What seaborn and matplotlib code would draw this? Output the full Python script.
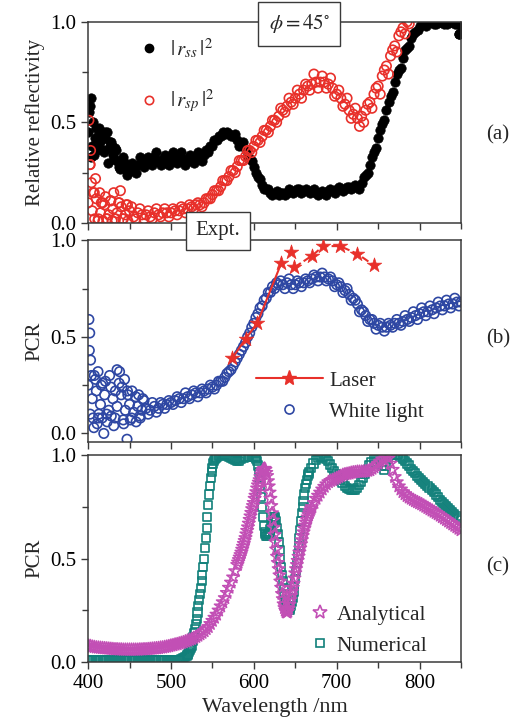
import numpy as np
import seaborn as sns
import matplotlib.pyplot as plt
from matplotlib.lines import Line2D
from matplotlib.ticker import MultipleLocator

# ---- panel (a): relative reflectivity (two interleaved readings, 5 nm apart) ----
rss = [0.45, 0.38, 0.47, 0.40, 0.42, 0.37, 0.34, 0.31, 0.30, 0.27,
       0.26, 0.28, 0.29, 0.30, 0.31, 0.30, 0.33, 0.31, 0.32, 0.30,
       0.32, 0.31, 0.33, 0.32, 0.31, 0.32, 0.33, 0.32, 0.34, 0.35,
       0.38, 0.41, 0.43, 0.44, 0.44, 0.43, 0.41, 0.39, 0.36, 0.32,
       0.28, 0.23, 0.19, 0.17, 0.15, 0.15, 0.14, 0.15, 0.15, 0.16,
       0.16, 0.17, 0.16, 0.16, 0.16, 0.15, 0.15, 0.15, 0.16, 0.16,
       0.17, 0.17, 0.17, 0.18, 0.18, 0.18, 0.20, 0.24, 0.29, 0.35,
       0.42, 0.49, 0.56, 0.63, 0.70, 0.76, 0.82, 0.87, 0.92, 0.95,
       0.98, 1.00, 1.00, 1.00, 0.99, 1.00, 0.99, 1.00, 1.00, 0.99, 0.98]
rss_2 = [0.58, 0.34, 0.43, 0.36, 0.45, 0.40, 0.37, 0.28, 0.33, 0.24,
         0.30, 0.25, 0.33, 0.28, 0.33, 0.29, 0.35, 0.29, 0.34, 0.29,
         0.35, 0.30, 0.35, 0.29, 0.34, 0.30, 0.35, 0.31, 0.36, 0.38,
         0.41, 0.43, 0.45, 0.45, 0.43, 0.44, 0.38, 0.40, 0.33, 0.31,
         0.25, 0.22, 0.17, 0.17, 0.14, 0.16, 0.15, 0.14, 0.17, 0.15,
         0.17, 0.15, 0.17, 0.15, 0.17, 0.14, 0.16, 0.14, 0.17, 0.15,
         0.18, 0.16, 0.18, 0.17, 0.19, 0.17, 0.23, 0.25, 0.33, 0.37,
         0.46, 0.51, 0.60, 0.65, 0.74, 0.77, 0.86, 0.88, 0.94, 0.96,
         0.99, 0.98, 1.00, 0.99, 1.00, 1.00, 0.99, 1.00, 0.99, 0.94]
rss_extra_wl = [401, 403, 404, 406, 408, 411, 413, 416, 419, 421, 424, 426,
                429, 431, 434, 439, 444, 449, 848]
rss_extra = [0.55, 0.62, 0.33, 0.50, 0.42, 0.36, 0.47, 0.44, 0.35, 0.45, 0.30, 0.40,
             0.38, 0.32, 0.36, 0.27, 0.30, 0.26, 0.94]

rsp = [0.10, 0.06, 0.12, 0.05, 0.09, 0.04, 0.07, 0.05, 0.08, 0.04,
       0.06, 0.03, 0.05, 0.04, 0.04, 0.03, 0.05, 0.04, 0.05, 0.05,
       0.05, 0.06, 0.06, 0.07, 0.07, 0.08, 0.09, 0.09, 0.10, 0.12,
       0.14, 0.16, 0.18, 0.21, 0.23, 0.26, 0.28, 0.31, 0.33, 0.36,
       0.38, 0.41, 0.43, 0.46, 0.48, 0.51, 0.53, 0.56, 0.58, 0.60,
       0.62, 0.64, 0.66, 0.68, 0.69, 0.70, 0.70, 0.70, 0.69, 0.67,
       0.64, 0.62, 0.59, 0.56, 0.54, 0.52, 0.53, 0.56, 0.60, 0.64,
       0.68, 0.73, 0.78, 0.83, 0.88, 0.93, 0.97, 1.00]
rsp_2 = [0.29, 0.15, 0.02, 0.10, 0.02, 0.11, 0.02, 0.10, 0.02, 0.09,
         0.08, 0.02, 0.07, 0.02, 0.06, 0.02, 0.07, 0.03, 0.07, 0.03,
         0.07, 0.04, 0.08, 0.05, 0.09, 0.07, 0.10, 0.08, 0.12, 0.12,
         0.16, 0.16, 0.21, 0.21, 0.26, 0.25, 0.31, 0.31, 0.36, 0.35,
         0.41, 0.40, 0.46, 0.45, 0.51, 0.50, 0.57, 0.55, 0.62, 0.59,
         0.66, 0.62, 0.69, 0.66, 0.74, 0.67, 0.73, 0.67, 0.72, 0.63,
         0.66, 0.58, 0.62, 0.52, 0.57, 0.48, 0.50, 0.59, 0.57, 0.67,
         0.64, 0.76, 0.74, 0.86, 0.85, 0.95, 0.94, 0.99]
rsp_extra_wl = [401, 402, 403, 404, 406, 408, 409, 412, 414, 416, 418, 421,
                423, 427, 429, 431, 433, 437, 439, 442, 446, 448]
rsp_extra = [0.51, 0.29, 0.36, 0.20, 0.15, 0.02, 0.22, 0.01, 0.15, 0.10, 0.01, 0.13,
             0.02, 0.11, 0.01, 0.15, 0.02, 0.10, 0.16, 0.02, 0.09, 0.01]

# ---- panel (b): experimental PCR ----
white = [0.25, 0.18, 0.22, 0.15, 0.20, 0.12, 0.18, 0.14, 0.20, 0.12,
         0.15, 0.11, 0.14, 0.12, 0.13, 0.12, 0.14, 0.13, 0.15, 0.15,
         0.16, 0.17, 0.18, 0.18, 0.19, 0.20, 0.21, 0.21, 0.22, 0.23,
         0.24, 0.25, 0.27, 0.29, 0.32, 0.35, 0.39, 0.43, 0.47, 0.52,
         0.57, 0.62, 0.66, 0.70, 0.73, 0.75, 0.77, 0.77, 0.78, 0.77,
         0.77, 0.78, 0.78, 0.79, 0.80, 0.81, 0.81, 0.81, 0.80, 0.79,
         0.77, 0.76, 0.74, 0.72, 0.70, 0.67, 0.64, 0.61, 0.59, 0.57,
         0.56, 0.55, 0.55, 0.56, 0.57, 0.57, 0.58, 0.59, 0.60, 0.61,
         0.62, 0.63, 0.63, 0.64, 0.65, 0.66, 0.66, 0.67, 0.67, 0.68, 0.68]
white_2 = [0.10, 0.30, 0.08, 0.26, 0.10, 0.24, 0.08, 0.26, 0.07, 0.22,
           0.08, 0.19, 0.09, 0.17, 0.10, 0.16, 0.11, 0.16, 0.13, 0.17,
           0.15, 0.19, 0.16, 0.21, 0.18, 0.22, 0.19, 0.23, 0.21, 0.25,
           0.23, 0.27, 0.27, 0.31, 0.33, 0.37, 0.41, 0.45, 0.50, 0.55,
           0.60, 0.65, 0.69, 0.73, 0.76, 0.78, 0.79, 0.75, 0.80, 0.75,
           0.79, 0.76, 0.80, 0.78, 0.82, 0.79, 0.83, 0.79, 0.81, 0.76,
           0.78, 0.73, 0.75, 0.69, 0.69, 0.63, 0.63, 0.58, 0.59, 0.54,
           0.57, 0.53, 0.57, 0.55, 0.59, 0.56, 0.61, 0.58, 0.63, 0.59,
           0.65, 0.61, 0.66, 0.62, 0.68, 0.64, 0.69, 0.65, 0.70, 0.66]
white_extra_wl = [401, 402, 401.5, 403, 404, 406, 407, 409, 411, 412, 413,
                  416, 417, 419, 421, 423, 426, 428, 431, 433, 435,
                  438, 441, 443, 444, 447, 448, 451, 453, 458, 461, 463, 466]
white_extra = [0.59, 0.52, 0.43, 0.38, 0.30, 0.08, 0.03, 0.28, 0.05, 0.32, 0.10,
               0.25, 0.08, 0.00, 0.27, 0.06, 0.30, 0.09, 0.04, 0.22, 0.33,
               0.32, 0.24, 0.05, 0.28, -0.03, 0.20, 0.07, 0.22, 0.06, 0.20, 0.08, 0.18]

laser_wl = [574, 590, 604, 633, 645, 649, 670, 684, 704, 725, 745]
laser = [0.39, 0.49, 0.57, 0.88, 0.94, 0.86, 0.92, 0.97, 0.97, 0.93, 0.87]

# ---- panel (c): calculated PCR (finer sampling where the curves are steep) ----
num_wl = np.concatenate([np.arange(400, 518, 2.5), np.arange(519, 556, 1),
                         np.arange(557.5, 603, 2.5), np.arange(603, 668, 1),
                         np.arange(669.5, 850, 2.5)])
numerical = [0.010, 0.010, 0.010, 0.010, 0.010, 0.010, 0.010, 0.010, 0.010, 0.010,
             0.010, 0.010, 0.010, 0.010, 0.010, 0.010, 0.010, 0.010, 0.010, 0.010,
             0.010, 0.010, 0.010, 0.010, 0.010, 0.010, 0.010, 0.012, 0.012, 0.012,
             0.012, 0.012, 0.012, 0.012, 0.012, 0.012, 0.012, 0.012, 0.012, 0.012,
             0.012, 0.012, 0.012, 0.012, 0.012, 0.015, 0.020, 0.025,
             0.03, 0.035, 0.04, 0.05, 0.06, 0.07, 0.08, 0.10, 0.12, 0.14,
             0.16, 0.185, 0.21, 0.24, 0.27, 0.30, 0.33, 0.36, 0.39, 0.42,
             0.46, 0.50, 0.55, 0.60, 0.65, 0.70, 0.76, 0.81, 0.85, 0.89,
             0.92, 0.94, 0.96, 0.97, 0.98, 0.985, 0.99,
             0.995, 1.0, 1.0, 1.0, 0.995, 0.99, 0.985, 0.98, 0.975, 0.97,
             0.97, 0.98, 0.985, 0.99, 0.99, 0.99, 0.99, 0.99, 0.985,
             0.98, 0.97, 0.95, 0.92, 0.89, 0.85, 0.80, 0.75, 0.70, 0.66,
             0.63, 0.62, 0.61, 0.61, 0.62, 0.62, 0.63, 0.645, 0.66, 0.675,
             0.69, 0.70, 0.70, 0.69, 0.68, 0.65, 0.62, 0.58, 0.54, 0.50,
             0.46, 0.42, 0.39, 0.36, 0.33, 0.30, 0.28, 0.27, 0.26, 0.25,
             0.25, 0.26, 0.27, 0.29, 0.31, 0.34, 0.37, 0.40, 0.44, 0.48,
             0.52, 0.56, 0.60, 0.64, 0.68, 0.72, 0.75, 0.78, 0.81, 0.84,
             0.86, 0.88, 0.90, 0.91, 0.92,
             0.94, 0.96, 0.975, 0.985, 0.99, 0.99, 0.99, 0.98, 0.97, 0.955,
             0.94, 0.925, 0.91, 0.895, 0.88, 0.865, 0.85, 0.84, 0.835, 0.83,
             0.83, 0.83, 0.84, 0.855, 0.87, 0.89, 0.91, 0.93, 0.95, 0.965,
             0.98, 0.99, 0.99, 0.98, 0.95, 0.93, 0.95, 0.98, 1.0, 1.0,
             1.0, 1.0, 1.0, 0.99, 0.98, 0.97, 0.96, 0.95, 0.935, 0.925,
             0.915, 0.90, 0.89, 0.88, 0.87, 0.86, 0.85, 0.84, 0.83, 0.82,
             0.81, 0.80, 0.785, 0.775, 0.765, 0.755, 0.745, 0.735, 0.725, 0.715,
             0.705, 0.695, 0.685]

ana_wl = np.concatenate([np.arange(400, 581, 2.5), np.arange(581, 671, 1),
                         np.arange(672.5, 851, 2.5)])
analytical = [0.080, 0.078, 0.075, 0.073, 0.071, 0.070, 0.069, 0.068, 0.067, 0.066,
              0.065, 0.064, 0.063, 0.062, 0.062, 0.061, 0.061, 0.060, 0.060, 0.060,
              0.060, 0.060, 0.060, 0.060, 0.060, 0.061, 0.061, 0.062, 0.062, 0.063,
              0.064, 0.065, 0.066, 0.067, 0.068, 0.070, 0.071, 0.073, 0.075, 0.077,
              0.080, 0.082, 0.085, 0.087, 0.090, 0.093, 0.096, 0.100, 0.104, 0.108,
              0.112, 0.117, 0.122, 0.128, 0.135, 0.142, 0.150, 0.160, 0.170, 0.185,
              0.200, 0.215, 0.230, 0.250, 0.270, 0.290, 0.310, 0.335, 0.360, 0.385,
              0.410, 0.440, 0.470,
              0.482, 0.494, 0.506, 0.518, 0.530, 0.544, 0.558, 0.572, 0.586, 0.600,
              0.618, 0.635, 0.652, 0.670, 0.688, 0.705, 0.722, 0.740, 0.755, 0.770,
              0.790, 0.805, 0.822, 0.840, 0.855, 0.868, 0.880, 0.895, 0.908, 0.920,
              0.928, 0.933, 0.935, 0.930, 0.915, 0.900, 0.875, 0.850, 0.820, 0.790,
              0.755, 0.720, 0.685, 0.650, 0.615, 0.580, 0.545, 0.510, 0.480, 0.450,
              0.420, 0.390, 0.360, 0.330, 0.305, 0.280, 0.262, 0.250, 0.242, 0.240,
              0.245, 0.258, 0.278, 0.300, 0.320, 0.340, 0.360, 0.380, 0.405, 0.430,
              0.450, 0.470, 0.490, 0.510, 0.530, 0.550, 0.570, 0.590, 0.610, 0.628,
              0.645, 0.660, 0.675, 0.688, 0.700, 0.712, 0.722, 0.732, 0.741, 0.750,
              0.770, 0.790, 0.805, 0.820, 0.835, 0.848, 0.860, 0.870, 0.876, 0.880,
              0.885, 0.890, 0.895, 0.900, 0.905, 0.908, 0.910, 0.912, 0.915, 0.917,
              0.918, 0.920, 0.920, 0.920, 0.921, 0.922, 0.925, 0.928, 0.935, 0.942,
              0.950, 0.960, 0.970, 0.980, 0.995, 1.000, 0.985, 0.960, 0.930, 0.895,
              0.870, 0.850, 0.835, 0.822, 0.812, 0.803, 0.796, 0.790, 0.784, 0.778,
              0.773, 0.768, 0.763, 0.757, 0.751, 0.745, 0.739, 0.733, 0.727, 0.721,
              0.715, 0.708, 0.701, 0.694, 0.687, 0.680, 0.673, 0.666, 0.659, 0.652,
              0.645, 0.638]


def grid(start, values):
    return np.arange(len(values)) * 5 + start


RED = '#e8302a'
BLUE = '#2e47a3'
TEAL = '#11807a'
MAGENTA = '#c24fb5'
EDGE = '#3a3a3a'

sns.set_style('ticks')
plt.rcParams['font.family'] = ['Liberation Serif', 'DejaVu Serif']
plt.rcParams['mathtext.fontset'] = 'stix'
plt.rcParams['axes.edgecolor'] = EDGE
plt.rcParams['xtick.color'] = EDGE
plt.rcParams['ytick.color'] = EDGE
plt.rcParams['xtick.labelcolor'] = 'black'
plt.rcParams['ytick.labelcolor'] = 'black'

fig = plt.figure(figsize=(5.18, 7.26), dpi=100)
ax_a = fig.add_axes([0.170, 0.693, 0.720, 0.277])
ax_b = fig.add_axes([0.170, 0.391, 0.720, 0.278])
ax_c = fig.add_axes([0.170, 0.088, 0.720, 0.285])

dot = dict(s=46, linewidth=1.2)

# (a)
for wl, vals in [(grid(400, rss), rss), (grid(402.5, rss_2), rss_2), (rss_extra_wl, rss_extra)]:
    sns.scatterplot(x=wl, y=vals, ax=ax_a, color='black', edgecolor='black', s=46, linewidth=0.5)
for wl, vals in [(grid(400, rsp), rsp), (grid(402.5, rsp_2), rsp_2), (rsp_extra_wl, rsp_extra)]:
    sns.scatterplot(x=wl, y=vals, ax=ax_a, facecolor='none', edgecolor=RED, **dot)
ax_a.set_ylim(0, 1.0)
ax_a.set_ylabel('Relative reflectivity', fontsize=15)
handles_a = [Line2D([], [], ls='', marker='o', color='black', ms=6),
             Line2D([], [], ls='', marker='o', mfc='none', mec=RED, mew=1.2, ms=6)]
ax_a.legend(handles_a, [r'$|\,r_{ss}\,|^2$', r'$|\,r_{sp}\,|^2$'], loc='upper left',
            bbox_to_anchor=(0.08, 1.02), frameon=False, fontsize=15,
            labelspacing=1.3, handletextpad=0.4, handlelength=1.2)
ax_a.text(0.566, 0.99, r'$\phi = 45^{\circ}$', transform=ax_a.transAxes, ha='center', va='center',
          fontsize=15, zorder=10, clip_on=False,
          bbox=dict(boxstyle='square,pad=0.5', fc='white', ec=EDGE, lw=1))

# (b)
for wl, vals in [(grid(400, white), white), (grid(402.5, white_2), white_2), (white_extra_wl, white_extra)]:
    sns.scatterplot(x=wl, y=vals, ax=ax_b, facecolor='none', edgecolor=BLUE, **dot)
sns.lineplot(x=laser_wl[:4], y=laser[:4], ax=ax_b, color=RED, lw=1.5, sort=False)
sns.lineplot(x=laser_wl[5:], y=laser[5:], ax=ax_b, color=RED, lw=1.5, ls='--', sort=False)
sns.scatterplot(x=laser_wl, y=laser, ax=ax_b, marker='*', color=RED, edgecolor=RED, s=120, linewidth=0.5, zorder=5)
ax_b.set_ylim(-0.045, 1.0)
ax_b.set_ylabel('PCR', fontsize=15)
handles_b = [Line2D([], [], color=RED, lw=1.5, marker='*', ms=11),
             Line2D([], [], ls='', marker='o', mfc='none', mec=BLUE, mew=1.2, ms=6.5)]
ax_b.legend(handles_b, ['Laser', 'White light'], loc='upper left', bbox_to_anchor=(0.40, 0.445),
            frameon=False, fontsize=15, labelspacing=0.55, handletextpad=0.3, handlelength=3.2)

# (c)
sns.scatterplot(x=num_wl, y=numerical, ax=ax_c, marker='s', facecolor='none', edgecolor=TEAL, s=34, linewidth=1.2)
sns.scatterplot(x=ana_wl, y=analytical, ax=ax_c, marker='*', facecolor='none', edgecolor=MAGENTA, s=90, linewidth=1.1)
ax_c.set_ylim(0, 1.0)
ax_c.set_ylabel('PCR', fontsize=15)
ax_c.set_xlabel('Wavelength /nm', fontsize=16)
handles_c = [Line2D([], [], ls='', marker='*', mfc='none', mec=MAGENTA, mew=1.2, ms=10),
             Line2D([], [], ls='', marker='s', mfc='none', mec=TEAL, mew=1.2, ms=6)]
ax_c.legend(handles_c, ['Analytical', 'Numerical'], loc='upper left', bbox_to_anchor=(0.54, 0.37),
            frameon=False, fontsize=15.5, labelspacing=0.5, handletextpad=0.3, handlelength=1.0)

for ax in (ax_a, ax_b, ax_c):
    ax.set_xlim(400, 850)
    ax.xaxis.set_major_locator(MultipleLocator(100))
    ax.xaxis.set_minor_locator(MultipleLocator(50))
    ax.yaxis.set_major_locator(MultipleLocator(0.5))
    ax.yaxis.set_minor_locator(MultipleLocator(0.25))
    ax.yaxis.set_major_formatter(plt.FormatStrFormatter('%.1f'))
    ax.tick_params(which='both', direction='out', labelsize=15, width=1, top=False, right=False)
    ax.tick_params(which='major', length=5)
    ax.tick_params(which='minor', length=4)
    for sp in ax.spines.values():
        sp.set_visible(True)
        sp.set_linewidth(1.1)
    if ax is not ax_c:
        ax.set_xlabel('')
        ax.tick_params(labelbottom=False)

fig.text(218 / 518, 1 - 231 / 726, 'Expt.', ha='center', va='center', fontsize=15, zorder=10,
         bbox=dict(boxstyle='square,pad=0.45', fc='white', ec=EDGE, lw=1))
fig.text(498 / 518, 1 - 135 / 726, '(a)', ha='center', va='center', fontsize=15)
fig.text(498 / 518, 1 - 339 / 726, '(b)', ha='center', va='center', fontsize=15)
fig.text(498 / 518, 1 - 567 / 726, '(c)', ha='center', va='center', fontsize=15)

fig.savefig('out.png', dpi=100)
